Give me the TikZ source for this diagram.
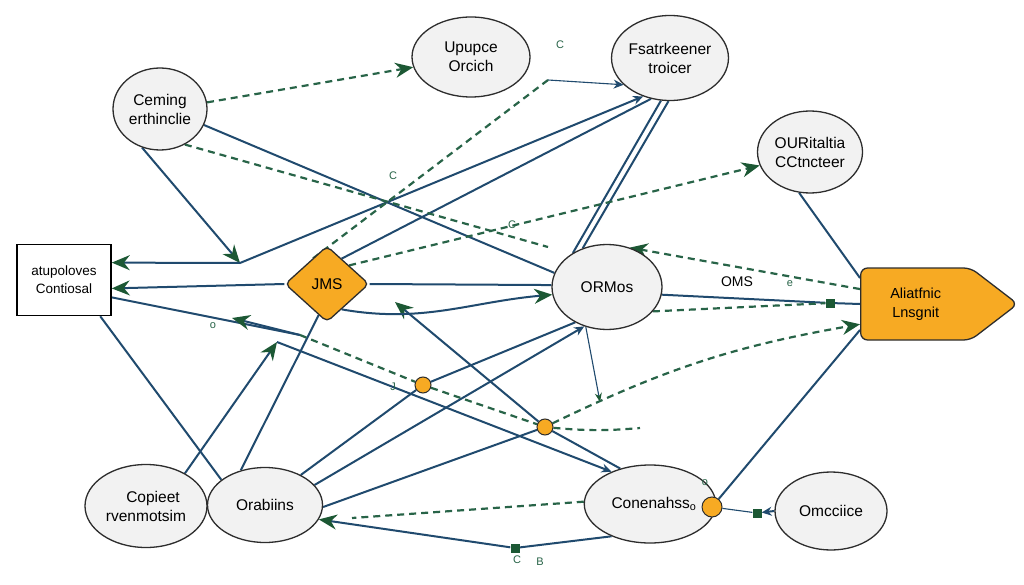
\documentclass[tikz,border=0pt]{standalone}
\usepackage{fontspec}
\setmainfont{Liberation Sans}
\usetikzlibrary{arrows.meta,shapes.geometric,shapes.symbols}
\definecolor{lineblue}{RGB}{32,74,110}
\definecolor{dgreen}{RGB}{40,100,72}
\definecolor{agreen}{RGB}{28,88,52}
\definecolor{orng}{RGB}{247,170,35}
\definecolor{efill}{RGB}{242,242,242}
\definecolor{edgec}{RGB}{45,45,45}
\pgfdeclarelayer{back}
\pgfdeclarelayer{bg}
\pgfsetlayers{back,bg,main}
\begin{document}
\begin{tikzpicture}[x=1pt,y=-1pt,
 ell/.style={ellipse,draw=edgec,line width=1.3pt,fill=efill,inner sep=0pt,align=center,font=\fontsize{15.5}{19}\selectfont},
 conn/.style={draw=lineblue,line width=2pt},
 thinc/.style={draw=lineblue,line width=1.1pt},
 dconn/.style={draw=dgreen,line width=2.2pt,dash pattern=on 7pt off 5pt},
 gtip/.style={-{Stealth[length=18pt,width=15pt,color=agreen]}},
 stip/.style={-{Stealth[length=9pt,width=7pt,color=agreen]}},
 dtip/.style={-{Stealth[length=10pt,width=9pt,color=lineblue]}},
 dot/.style={circle,fill=orng,draw=edgec,line width=1pt,inner sep=0pt},
 sq/.style={rectangle,fill=agreen,inner sep=0pt,minimum size=9pt},
 lbl/.style={inner sep=0pt,font=\fontsize{14}{16}\selectfont},
 slbl/.style={inner sep=0pt,text=dgreen,font=\fontsize{11}{13}\selectfont}
]
\useasboundingbox (0,0) rectangle (1024,585);
\begin{pgfonlayer}{back}
\fill[white] (0,0) rectangle (1024,585);
\end{pgfonlayer}

% nodes
\node[rectangle,draw=black,line width=1.5pt,fill=white,minimum width=94pt,minimum height=71pt,align=center,font=\fontsize{13.5}{18}\selectfont] (box) at (64,280) {atupoloves\\Contiosal};
\node[ell,minimum width=94pt,minimum height=82pt] (ceming) at (160,109) {Ceming\\erthinclie};
\node[ell,minimum width=118pt,minimum height=80pt] (upup) at (471,57) {Upupce\\Orcich};
\node[ell,minimum width=105pt,minimum height=85pt] (fsatr) at (670,58) {Fsatrkeener\\troicer};
\node[ell,minimum width=105pt,minimum height=82pt] (ourit) at (810,152) {OURitaltia\\CCtncteer};
\node[diamond,draw=edgec,line width=1.3pt,fill=orng,minimum width=84pt,minimum height=76pt,inner sep=0pt,rounded corners=5pt,font=\fontsize{15.5}{19}\selectfont] (jms) at (327,284) {JMS};
\node[ell,minimum width=110pt,minimum height=85pt] (ormos) at (607,287) {ORMos};
\node[signal,signal to=east,signal pointer angle=75,draw=edgec,line width=1.3pt,fill=orng,minimum width=157pt,minimum height=72pt,inner sep=0pt,rounded corners=7pt,align=center,anchor=west,font=\fontsize{14.5}{19}\selectfont] (alia) at (860,304) {Aliatfnic\\Lnsgnit};
\node[ell,minimum width=122pt,minimum height=83pt] (copieet) at (146,506) {\hspace*{14pt}Copieet\\rvenmotsim};
\node[ell,minimum width=115pt,minimum height=75pt] (orab) at (265,505) {Orabiins};
\node[ell,minimum width=120pt,minimum height=78pt] (conen) at (650,504) {\hspace*{8pt}Conenahss\textsubscript{o}};
\node[ell,minimum width=112pt,minimum height=78pt] (omcc) at (831,511) {Omcciice};
\node[dot,minimum size=16pt] (c1) at (423,385) {};
\node[dot,minimum size=16pt] (c2) at (545,427) {};
\node[dot,minimum size=20pt] (c3) at (712,507) {};
\node[sq] (m1) at (830,303) {};
\node[sq] (m2) at (515,548) {};
\node[sq] (m3) at (757,513) {};

% free ends
\coordinate (jA) at (240,263);
\coordinate (jB) at (277,342);
\coordinate (jC) at (395,302);
\coordinate (jE) at (548,247);
\coordinate (jF) at (300,335);
\coordinate (jG) at (600,402);
\coordinate (jH) at (548,80);
\coordinate (jI) at (232,318);
\coordinate (jJ) at (640,428);
\coordinate (jK) at (352,518);

% labels
\node[lbl] (t1) at (737,282) {OMS};
\node[slbl] (t2) at (393,176) {C};
\node[slbl] (t3) at (512,225) {C};
\node[slbl] (t4) at (560,45) {C};
\node[slbl] (t5) at (213,326) {o};
\node[slbl] (t6) at (790,284) {e};
\node[slbl] (t7) at (517,560) {C};
\node[slbl] (t8) at (540,562) {B};
\node[slbl] (t9) at (705,483) {o};
\node[slbl] (t10) at (393,387) {J};

\begin{pgfonlayer}{bg}
% solid connectors
\draw[conn] (ceming.-20) -- (ormos.165);
\draw[conn,gtip] (ceming.-115) -- (jA);
\draw[conn,gtip] (jA) -- (box.20);
\draw[conn,dtip] (jA) -- (fsatr.-125);
\draw[conn] (jms.60) -- (fsatr.-115);
\draw[conn] (fsatr.-102) -- (ormos.135);
\draw[conn] (fsatr.-92) -- (ormos.122);
\draw[conn] (ourit.-105) -- (alia.155);
\draw[conn] (ormos.-8) -- (m1) -- (alia.west);
\draw[conn] (alia.-155) -- (c3);
\draw[conn,gtip] (jms.west) -- (box.-10);
\draw[conn] (box.-20) -- (jF);
\draw[conn,gtip] (jF) -- (jI);
\draw[conn] (box.-45) -- (orab.150);
\draw[conn,gtip] (copieet.40) -- (jB);
\draw[conn,dtip] (jB) -- (conen.140);
\draw[conn] (orab.125) -- (jms.-105);
\draw[conn,dtip] (orab.22) -- (ormos.-120);
\draw[conn] (orab.40) -- (c1);
\draw[conn] (c1) -- (ormos.-132);
\draw[conn,gtip] (conen.130) -- (c2) -- (jC);
\draw[conn] (orab.-2) -- (c2);
\draw[conn,gtip] (jms.-60) to[out=-10,in=185] (ormos.188);
\draw[conn] (jms.east) -- (ormos.178);
\draw[thinc,stip] (ormos.-118) -- (jG);
\draw[conn,gtip] (conen.-140) -- (m2) -- (orab.-15);
\draw[thinc] (c3) -- (m3);
\draw[conn,dtip] (omcc.west) -- (m3);
\draw[thinc,dtip] (jH) -- (fsatr.-150);
% dashed connectors
\draw[dconn,gtip] (ceming.8) -- (upup.190);
\draw[dconn] (ceming.-55) -- (jE);
\draw[dconn] (jH) -- (jms.125);
\draw[dconn,gtip] (jms.40) -- (ourit.195);
\draw[dconn,gtip] (alia.165) -- (ormos.60);
\draw[dconn] (ormos.-28) -- (m1);
\draw[dconn,gtip] (c2) to[bend left=8] (alia.-160);
\draw[dconn] (c2) to[bend right=5] (jJ);
\draw[dconn] (jF) -- (c1) -- (c2);
\draw[dconn] (conen.178) -- (jK);
\end{pgfonlayer}
\end{tikzpicture}
\end{document}
